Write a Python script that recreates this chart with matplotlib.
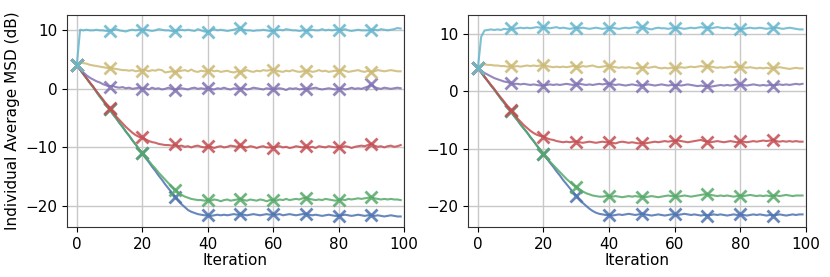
import numpy as np
import matplotlib.pyplot as plt

# iterations
iters = np.arange(100)

# left panel series
left_blue = [4.0, 3.3, 2.5, 1.8, 1.0, 0.3, -0.5, -1.3, -2.0, -2.8,
             -3.5, -4.3, -5.0, -5.8, -6.5, -7.3, -8.0, -8.8, -9.5, -10.3,
             -11.0, -11.8, -12.5, -13.3, -14.0, -14.8, -15.5, -16.3, -17.0, -17.7,
             -18.4, -19.1, -19.7, -20.2, -20.7, -21.0, -21.2, -21.4, -21.5, -21.6,
             -21.6, -21.7, -21.6, -21.5, -21.6, -21.5, -21.6, -21.5, -21.4, -21.5,
             -21.4, -21.5, -21.6, -21.5, -21.4, -21.5, -21.6, -21.5, -21.4, -21.5,
             -21.4, -21.5, -21.4, -21.6, -21.5, -21.4, -21.5, -21.6, -21.5, -21.4,
             -21.4, -21.5, -21.6, -21.5, -21.6, -21.7, -21.6, -21.5, -21.6, -21.7,
             -21.7, -21.6, -21.5, -21.6, -21.7, -21.6, -21.5, -21.6, -21.7, -21.6,
             -21.6, -21.7, -21.6, -21.7, -21.8, -21.7, -21.6, -21.7, -21.8, -21.8]
left_green = [4.0, 3.3, 2.5, 1.8, 1.0, 0.3, -0.5, -1.3, -2.0, -2.8,
              -3.5, -4.3, -5.0, -5.8, -6.5, -7.3, -8.0, -8.8, -9.5, -10.3,
              -11.0, -11.7, -12.3, -13.0, -13.6, -14.3, -14.9, -15.5, -16.1, -16.7,
              -17.2, -17.7, -18.1, -18.4, -18.6, -18.8, -18.9, -19.0, -19.0, -19.1,
              -19.0, -19.1, -18.9, -19.0, -19.2, -19.0, -18.9, -19.1, -19.0, -18.9,
              -18.8, -19.0, -19.1, -18.9, -19.0, -19.1, -18.9, -19.0, -19.2, -19.0,
              -19.0, -19.1, -18.9, -19.0, -18.8, -19.0, -18.9, -18.8, -18.9, -18.7,
              -18.6, -18.8, -18.9, -19.0, -18.9, -19.0, -18.8, -18.9, -19.0, -19.1,
              -19.0, -18.9, -19.0, -18.8, -18.9, -18.8, -18.7, -18.8, -18.7, -18.6,
              -18.5, -18.7, -18.8, -18.9, -18.8, -18.9, -18.8, -18.9, -18.9, -19.0]
left_red = [4.0, 3.3, 2.6, 1.8, 1.1, 0.4, -0.4, -1.1, -1.8, -2.6,
            -3.3, -4.0, -4.7, -5.3, -5.9, -6.5, -7.0, -7.5, -7.9, -8.2,
            -8.3, -8.6, -8.9, -9.1, -9.2, -9.4, -9.5, -9.6, -9.6, -9.7,
            -9.5, -9.8, -9.7, -9.9, -9.8, -10.0, -9.8, -9.7, -9.9, -10.0,
            -9.8, -9.9, -10.1, -9.9, -9.8, -10.0, -9.9, -9.7, -9.8, -9.9,
            -9.6, -9.9, -10.0, -9.8, -9.9, -10.1, -9.9, -9.8, -10.0, -10.0,
            -10.1, -9.9, -9.8, -10.0, -9.9, -10.1, -10.0, -9.8, -9.9, -10.0,
            -9.8, -10.0, -9.9, -10.1, -9.8, -9.9, -10.0, -9.8, -9.9, -10.0,
            -9.9, -10.0, -9.8, -9.9, -10.1, -9.9, -9.8, -9.7, -9.8, -9.6,
            -9.4, -9.7, -9.9, -9.8, -10.0, -9.8, -9.7, -9.9, -9.8, -9.6]
left_purple = [4.0, 3.4, 2.8, 2.3, 1.9, 1.6, 1.3, 1.1, 0.8, 0.6,
               0.4, 0.5, 0.3, 0.2, 0.3, 0.1, 0.2, 0.0, 0.1, 0.2,
               0.0, 0.1, -0.1, 0.2, 0.0, 0.1, -0.1, 0.0, 0.2, 0.0,
               -0.2, 0.0, 0.1, 0.0, -0.1, 0.1, 0.2, 0.0, 0.1, 0.0,
               0.2, 0.0, -0.1, 0.1, 0.0, 0.2, 0.0, -0.1, 0.1, 0.0,
               0.0, 0.1, -0.1, 0.0, 0.2, 0.1, 0.0, -0.1, 0.1, 0.0,
               -0.1, 0.0, 0.1, 0.0, -0.2, 0.1, 0.0, 0.1, -0.1, 0.0,
               -0.1, 0.0, 0.1, 0.2, 0.0, -0.1, 0.0, 0.1, 0.0, -0.1,
               0.0, 0.1, -0.1, 0.0, 0.2, 0.0, 0.1, 0.0, 0.2, 0.4,
               0.8, 0.3, 0.1, 0.0, 0.2, 0.1, 0.0, 0.1, 0.2, 0.1]
left_yellow = [4.0, 4.6, 4.4, 4.3, 4.1, 4.0, 3.9, 3.8, 3.7, 3.6,
               3.6, 3.5, 3.4, 3.3, 3.2, 3.2, 3.1, 3.2, 3.0, 3.1,
               3.1, 3.2, 3.0, 3.2, 3.1, 3.3, 3.2, 2.8, 2.9, 3.0,
               2.8, 3.0, 3.1, 3.2, 3.0, 3.3, 3.0, 2.9, 3.1, 3.0,
               3.0, 3.2, 3.0, 3.1, 2.9, 3.0, 3.1, 2.9, 2.8, 3.0,
               2.8, 3.0, 3.2, 3.0, 2.9, 3.1, 3.0, 3.2, 3.1, 3.2,
               3.3, 3.1, 3.0, 2.9, 3.1, 3.0, 3.2, 3.0, 2.9, 3.0,
               3.0, 3.1, 2.9, 3.0, 3.2, 3.0, 3.1, 2.9, 3.0, 3.1,
               3.0, 3.2, 3.1, 2.9, 3.0, 3.1, 3.2, 3.0, 2.9, 3.1,
               2.8, 3.0, 3.2, 3.1, 3.0, 3.1, 3.2, 3.1, 3.0, 3.0]
left_cyan = [4.0, 10.1, 10.0, 10.1, 10.0, 10.0, 10.1, 10.0, 10.0, 9.9,
             9.9, 10.0, 10.2, 10.0, 9.9, 9.8, 10.0, 10.1, 10.0, 10.1,
             10.0, 10.1, 10.0, 9.9, 10.0, 10.2, 10.1, 10.0, 10.0, 9.9,
             9.8, 10.0, 10.1, 10.0, 10.1, 10.0, 9.9, 10.2, 10.0, 9.8,
             9.7, 10.0, 10.2, 10.0, 10.1, 10.0, 9.9, 10.0, 10.1, 10.3,
             10.4, 10.1, 10.0, 10.0, 9.9, 10.0, 10.0, 10.1, 10.0, 9.9,
             9.9, 10.0, 10.1, 10.0, 10.2, 10.1, 10.0, 10.0, 9.9, 10.0,
             9.9, 10.0, 10.1, 10.0, 10.0, 10.2, 10.0, 10.1, 10.0, 10.1,
             10.1, 10.0, 10.2, 10.0, 9.9, 10.0, 10.1, 10.0, 10.0, 10.0,
             10.0, 10.1, 10.0, 10.2, 10.1, 10.0, 10.1, 10.2, 10.4, 10.3]

# right panel series
right_blue = [4.0, 3.3, 2.5, 1.8, 1.0, 0.3, -0.5, -1.3, -2.0, -2.8,
              -3.5, -4.3, -5.0, -5.8, -6.5, -7.2, -8.0, -8.7, -9.5, -10.2,
              -10.9, -11.7, -12.5, -13.2, -14.0, -14.7, -15.5, -16.2, -16.9, -17.6,
              -18.2, -18.9, -19.5, -20.0, -20.5, -20.9, -21.2, -21.4, -21.5, -21.6,
              -21.6, -21.7, -21.6, -21.5, -21.6, -21.5, -21.4, -21.5, -21.6, -21.5,
              -21.4, -21.5, -21.6, -21.7, -21.6, -21.5, -21.6, -21.7, -21.6, -21.5,
              -21.5, -21.6, -21.5, -21.4, -21.5, -21.6, -21.5, -21.6, -21.7, -21.6,
              -21.7, -21.6, -21.5, -21.6, -21.5, -21.6, -21.7, -21.6, -21.5, -21.6,
              -21.5, -21.6, -21.7, -21.6, -21.5, -21.6, -21.5, -21.6, -21.7, -21.6,
              -21.7, -21.6, -21.5, -21.6, -21.7, -21.6, -21.5, -21.6, -21.5, -21.5]
right_green = [4.0, 3.3, 2.5, 1.8, 1.0, 0.3, -0.5, -1.3, -2.0, -2.8,
               -3.5, -4.3, -5.0, -5.8, -6.5, -7.2, -8.0, -8.7, -9.5, -10.2,
               -10.9, -11.6, -12.3, -12.9, -13.5, -14.1, -14.7, -15.3, -15.8, -16.3,
               -16.7, -17.1, -17.5, -17.8, -18.0, -18.2, -18.3, -18.4, -18.4, -18.3,
               -18.3, -18.4, -18.3, -18.4, -18.5, -18.4, -18.3, -18.4, -18.3, -18.4,
               -18.4, -18.5, -18.4, -18.3, -18.4, -18.5, -18.4, -18.3, -18.2, -18.3,
               -18.3, -18.4, -18.3, -18.2, -18.3, -18.4, -18.3, -18.2, -18.1, -18.0,
               -18.0, -18.1, -18.2, -18.3, -18.2, -18.3, -18.2, -18.3, -18.4, -18.3,
               -18.2, -18.3, -18.2, -18.1, -18.2, -18.3, -18.2, -18.3, -18.2, -18.3,
               -18.3, -18.2, -18.3, -18.2, -18.1, -18.2, -18.3, -18.2, -18.2, -18.2]
right_red = [4.0, 3.3, 2.6, 1.8, 1.1, 0.4, -0.4, -1.1, -1.8, -2.6,
             -3.3, -4.0, -4.7, -5.3, -5.9, -6.4, -6.9, -7.3, -7.6, -7.8,
             -7.9, -8.2, -8.4, -8.5, -8.7, -8.8, -8.9, -8.8, -8.9, -8.8,
             -8.8, -8.9, -9.0, -8.9, -8.8, -8.9, -9.0, -8.9, -8.8, -8.9,
             -8.9, -9.0, -9.1, -8.9, -8.8, -8.9, -9.0, -8.9, -9.0, -9.1,
             -9.0, -9.1, -9.0, -8.9, -8.8, -8.9, -8.8, -8.7, -8.8, -8.7,
             -8.7, -8.6, -8.7, -8.8, -8.9, -8.8, -8.7, -8.6, -8.5, -8.7,
             -8.8, -8.9, -8.8, -8.7, -8.8, -8.9, -8.8, -8.7, -8.8, -8.9,
             -8.7, -8.8, -8.9, -8.8, -8.7, -8.8, -8.7, -8.6, -8.7, -8.6,
             -8.5, -8.7, -8.8, -8.7, -8.8, -8.7, -8.8, -8.7, -8.8, -8.8]
right_purple = [4.0, 3.6, 3.2, 2.9, 2.6, 2.3, 2.1, 1.9, 1.7, 1.6,
                1.4, 1.3, 1.3, 1.2, 1.3, 1.2, 1.1, 1.2, 1.1, 1.0,
                1.0, 1.1, 1.2, 1.1, 1.2, 1.1, 1.2, 1.3, 1.2, 1.1,
                1.2, 1.3, 1.2, 1.1, 1.2, 1.1, 1.2, 1.3, 1.2, 1.3,
                1.3, 1.2, 1.1, 1.2, 1.1, 1.0, 1.1, 1.2, 1.1, 1.0,
                1.0, 1.1, 1.2, 1.1, 1.0, 1.1, 1.2, 1.1, 1.0, 1.1,
                1.0, 1.1, 1.0, 1.1, 1.2, 1.1, 1.0, 0.9, 1.0, 0.9,
                0.9, 0.8, 0.9, 1.0, 1.1, 1.0, 1.1, 1.0, 1.1, 1.2,
                1.2, 1.1, 1.0, 1.1, 1.2, 1.1, 1.0, 1.1, 1.0, 1.1,
                1.0, 1.1, 1.2, 1.1, 1.2, 1.1, 1.2, 1.3, 1.2, 1.3]
right_yellow = [4.0, 4.7, 4.7, 4.6, 4.6, 4.5, 4.5, 4.4, 4.4, 4.3,
                4.4, 4.3, 4.4, 4.3, 4.4, 4.5, 4.4, 4.5, 4.4, 4.5,
                4.6, 4.4, 4.3, 4.2, 4.3, 4.2, 4.3, 4.2, 4.3, 4.4,
                4.3, 4.2, 4.4, 4.3, 4.4, 4.5, 4.3, 4.2, 4.3, 4.4,
                4.4, 4.3, 4.2, 4.1, 4.2, 4.1, 4.2, 4.1, 4.0, 4.1,
                4.1, 4.2, 4.1, 4.2, 4.3, 4.1, 4.0, 4.1, 4.0, 4.1,
                4.0, 4.1, 4.2, 4.1, 4.2, 4.3, 4.2, 4.3, 4.4, 4.3,
                4.4, 4.3, 4.2, 4.1, 4.2, 4.1, 4.2, 4.3, 4.2, 4.3,
                4.3, 4.2, 4.1, 4.2, 4.1, 4.0, 4.1, 4.0, 4.1, 4.0,
                4.0, 4.1, 4.2, 4.1, 4.0, 3.9, 4.0, 4.1, 4.0, 4.0]
right_cyan = [4.0, 9.5, 10.6, 10.7, 10.8, 10.7, 10.8, 10.7, 10.9, 10.8,
              11.0, 10.9, 11.0, 11.1, 11.0, 11.1, 11.0, 11.1, 11.2, 11.1,
              11.2, 11.1, 11.0, 11.1, 11.2, 11.0, 11.1, 11.0, 10.9, 11.0,
              11.1, 11.0, 11.1, 11.0, 10.9, 11.0, 11.1, 11.0, 10.9, 11.0,
              11.0, 11.1, 11.0, 10.9, 11.0, 11.1, 11.0, 11.1, 11.2, 11.1,
              11.2, 11.1, 10.9, 10.8, 11.0, 11.1, 11.0, 11.0, 10.9, 11.0,
              11.0, 11.1, 11.0, 10.9, 11.0, 11.1, 11.0, 11.1, 11.2, 11.1,
              11.1, 11.0, 11.1, 11.2, 11.1, 11.0, 11.1, 11.0, 10.9, 11.0,
              10.8, 10.9, 11.0, 11.1, 11.0, 11.0, 11.1, 11.0, 10.9, 11.0,
              11.0, 11.1, 11.0, 10.9, 11.0, 11.1, 11.0, 10.9, 10.8, 10.8]

colors = ['#4C72B0', '#55A868', '#C44E52', '#8172B2', '#CCB974', '#64B5CD']

left_series = [left_blue, left_green, left_red, left_purple, left_yellow, left_cyan]
right_series = [right_blue, right_green, right_red, right_purple, right_yellow, right_cyan]

plt.rcParams['font.family'] = 'DejaVu Sans'
plt.rcParams['font.size'] = 11

fig = plt.figure(figsize=(8.3, 2.77), dpi=100)
ax1 = fig.add_axes([0.0807, 0.1805, 0.406, 0.765])
ax2 = fig.add_axes([0.5639, 0.1805, 0.407, 0.765])

for ax, series in [(ax1, left_series), (ax2, right_series)]:
    for s, c in zip(series, colors):
        ax.plot(iters, s, color=c, alpha=0.85, lw=1.5,
                marker='x', markevery=10, ms=9, mew=2)
    ax.set_xlim(-3, 100)
    ax.set_xticks([0, 20, 40, 60, 80, 100])
    ax.set_yticks([-20, -10, 0, 10])
    ax.grid(True, color='#c8c8c8', lw=1)
    ax.set_axisbelow(True)
    ax.set_xlabel('Iteration', labelpad=1)
    for sp in ax.spines.values():
        sp.set_color('#333333')

ax1.set_ylim(-23.6, 12.6)
ax2.set_ylim(-23.7, 13.3)
ax1.set_ylabel('Individual Average MSD (dB)')

fig.savefig('out.png', dpi=100)
